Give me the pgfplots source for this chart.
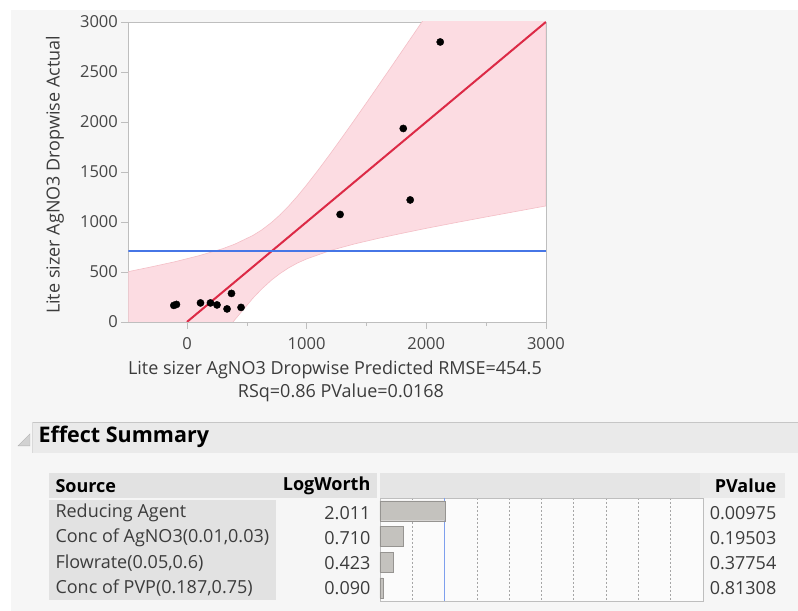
\documentclass[border=0pt]{standalone}
\usepackage{pgfplots}
\pgfplotsset{compat=1.18}
\usepackage{fontspec}
\setmainfont{Open Sans}
\setsansfont{Open Sans}

\definecolor{panel}{RGB}{246,246,246}
\definecolor{framegray}{RGB}{190,190,190}
\definecolor{ticktext}{RGB}{70,70,70}
\definecolor{bandfill}{RGB}{252,220,226}
\definecolor{bandedge}{RGB}{244,190,198}
\definecolor{fitred}{RGB}{220,42,70}
\definecolor{avgblue}{RGB}{70,118,230}
\definecolor{hdrgray}{RGB}{234,234,234}
\definecolor{cellgray}{RGB}{226,226,226}
\definecolor{barfill}{RGB}{196,194,190}
\definecolor{baredge}{RGB}{150,148,145}
\definecolor{txt}{RGB}{60,60,60}

\begin{document}
\begin{tikzpicture}[x=1pt,y=1pt]
% page and report panel
\fill[white] (0,0) rectangle (798,611);
\fill[panel] (11,0) rectangle (798,601);

% ---------------- actual by predicted plot ----------------
\begin{axis}[
  at={(128.4pt,289pt)}, anchor=south west,
  width=417.6pt, height=300pt, scale only axis,
  xmin=-490, xmax=3000, ymin=0, ymax=3000,
  axis background/.style={fill=white},
  axis line style={draw=framegray},
  xtick={0,1000,2000,3000}, minor xtick={500,1500,2500},
  ytick={0,500,...,3000},
  tick align=outside, tick pos=left,
  major tick length=7pt, minor tick length=4pt,
  every tick/.style={draw=framegray},
  ticklabel style={font=\fontsize{16.5}{19}\selectfont, text=ticktext},
  xticklabel style={yshift=-5pt},
  /pgf/number format/assume math mode=true,
  /pgf/number format/1000 sep={},
]
% confidence band of the fit
\addplot[fill=bandfill, draw=bandedge, line width=0.6pt] coordinates {
  (-490,503) (-300,550) (-100,602) (100,662) (300,733) (400,778)
  (550,864) (625,920) (708,996) (775,1068) (850,1159) (925,1260)
  (1000,1370) (1100,1524) (1200,1685) (1300,1851) (1400,2020)
  (1500,2191) (1600,2364) (1700,2538) (1800,2713) (1900,2888)
  (2000,3064) (2100,3241) (3000,3241)
  (3000,1160) (2750,1105) (2500,1050) (2250,994) (2000,936)
  (1800,887) (1600,836) (1400,780) (1200,715) (1000,630) (925,590)
  (850,541) (775,482) (708,420) (625,330) (550,236) (400,22)
  (300,-133) (200,-295) (100,-462) (0,-631) (-490,-1483)
} -- cycle;
% fit line and mean line
\addplot[draw=fitred, line width=2pt] coordinates {(0,0) (3000,3000)};
\addplot[draw=avgblue, line width=2.2pt] coordinates {(-490,707) (3000,707)};
% observations
\addplot[only marks, mark=*, mark size=3.6pt, black] coordinates {
  (2117,2800) (1808,1935) (1866,1220) (1280,1075)
  (-110,165) (-88,175) (113,190) (196,190) (251,170)
  (335,130) (372,285) (452,145)
};
\end{axis}

% axis titles
\node[rotate=90, text=txt, font=\fontsize{18}{20}\selectfont] at (55,436) {Lite sizer AgNO3 Dropwise Actual};
\node[text=txt, font=\fontsize{18}{20}\selectfont] at (335,241) {Lite sizer AgNO3 Dropwise Predicted RMSE=454.5};
\node[text=txt, font=\fontsize{18}{20}\selectfont] at (341,218) {RSq=0.86 PValue=0.0168};

% ---------------- effect summary ----------------
\fill[hdrgray] (32,158) rectangle (798,189);
\draw[gray!45] (32,189) -- (798,189);
\draw[gray!30] (32,158) -- (32,189);
\fill[gray!35, draw=gray!60] (18,165) -- (30,165) -- (30,177) -- cycle;
\node[anchor=west, font=\fontsize{21.5}{24}\selectfont\bfseries, text=black] at (35,174) {Effect Summary};

% table header row
\fill[cellgray] (49,113) rectangle (377,138);
\fill[cellgray!90!white] (380,113) rectangle (700,138);
\fill[hdrgray] (700,113) rectangle (785,138);
\fill[cellgray] (49,11) rectangle (276,111);
\begin{scope}[font=\fontsize{18}{21}\selectfont]
\node[anchor=west, font=\fontsize{18}{21}\selectfont\bfseries, text=black] at (52,125) {Source};
\node[anchor=east, font=\fontsize{18}{21}\selectfont\bfseries, text=black] at (374,125) {LogWorth};
\node[anchor=east, font=\fontsize{18}{21}\selectfont\bfseries, text=black] at (780,125) {PValue};
\node[anchor=west, text=txt] at (52,98) {Reducing Agent};
\node[anchor=west, text=txt] at (52,73) {Conc of AgNO3(0.01,0.03)};
\node[anchor=west, text=txt] at (52,48) {Flowrate(0.05,0.6)};
\node[anchor=west, text=txt] at (52,23) {Conc of PVP(0.187,0.75)};
\node[anchor=east, text=txt] at (374,98) {2.011};
\node[anchor=east, text=txt] at (374,73) {0.710};
\node[anchor=east, text=txt] at (374,48) {0.423};
\node[anchor=east, text=txt] at (374,23) {0.090};
\node[anchor=east, text=txt] at (780,98) {0.00975};
\node[anchor=east, text=txt] at (780,73) {0.19503};
\node[anchor=east, text=txt] at (780,48) {0.37754};
\node[anchor=east, text=txt] at (780,23) {0.81308};
\end{scope}

% LogWorth bars
\begin{axis}[
  at={(380pt,10pt)}, anchor=south west,
  width=323pt, height=103pt, scale only axis,
  xmin=0, xmax=10, ymin=0.5, ymax=4.5, y dir=reverse,
  axis background/.style={fill=white!60!panel},
  axis line style={draw=framegray},
  xtick={1,3,4,5,6,7,8,9}, ytick=\empty,
  xticklabels={}, major tick length=0pt,
  xmajorgrids, grid style={gray!70, dash pattern=on 2pt off 2pt},
]
\addplot[draw=avgblue!70, line width=1pt] coordinates {(2,0.5) (2,4.5)};
\addplot[xbar, bar width=20pt, fill=barfill, draw=baredge] coordinates {
  (2.011,1) (0.710,2) (0.423,3) (0.090,4)
};
\end{axis}
\end{tikzpicture}
\end{document}
